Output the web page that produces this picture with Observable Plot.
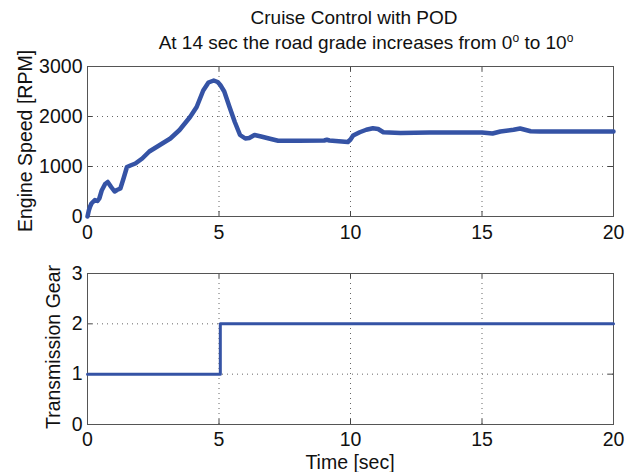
<!DOCTYPE html>
<html><head><meta charset="utf-8">
<script src="https://cdn.jsdelivr.net/npm/d3@7"></script>
<script src="https://cdn.jsdelivr.net/npm/@observablehq/plot@0.6"></script>
<style>
body{margin:0;background:#fff;}
#root{position:relative;width:633px;height:472px;overflow:hidden;font-family:"Liberation Sans",Arial,sans-serif;color:#111;}
.abs{position:absolute;white-space:nowrap;}
.title{font-size:19px;line-height:22px;transform:translate(-50%,-50%);}
.lab{font-size:19.5px;transform:translate(-50%,-50%);}
.ylab{font-size:19.5px;transform:translate(-50%,-50%) rotate(-90deg);}
.panel{position:absolute;left:0;}
sup{font-size:12px;vertical-align:0;position:relative;top:-7px;}
</style></head><body><div id="root"></div>
<script>
const titleLine1 = "Cruise Control with POD";
const titleLine2 = "At 14 sec the road grade increases from 0<sup>o</sup> to 10<sup>o</sup>";
const yLabelTop = "Engine Speed [RPM]";
const yLabelBottom = "Transmission Gear";
const xLabel = "Time [sec]";

const xTicks = [0, 5, 10, 15, 20];
const rpmTicks = [0, 1000, 2000, 3000];
const gearTicks = [0, 1, 2, 3];

const engineTime = [0, 0.05, 0.1, 0.15, 0.28, 0.38, 0.45, 0.54, 0.67, 0.77, 0.9, 1.03, 1.12, 1.25, 1.37, 1.5, 1.63, 1.82, 2.08, 2.35, 2.75, 3.15, 3.5, 3.9, 4.15, 4.4, 4.6, 4.8, 4.95, 5.05, 5.2, 5.4, 5.6, 5.8, 6.0, 6.15, 6.35, 6.6, 6.9, 7.25, 8.0, 9.0, 9.1, 9.2, 9.9, 10.0, 10.1, 10.35, 10.6, 10.85, 11.05, 11.25, 11.9, 13.0, 15.0, 15.4, 15.7, 16.2, 16.45, 16.85, 17.2, 20];
const engineRpm = [0, 120, 200, 260, 330, 310, 360, 520, 650, 690, 590, 500, 530, 560, 760, 990, 1020, 1060, 1160, 1300, 1430, 1560, 1730, 1990, 2190, 2520, 2680, 2720, 2690, 2630, 2500, 2190, 1890, 1630, 1560, 1570, 1630, 1600, 1560, 1516, 1516, 1520, 1535, 1520, 1490, 1540, 1620, 1685, 1735, 1765, 1750, 1685, 1670, 1680, 1680, 1660, 1700, 1735, 1760, 1705, 1700, 1700];

const gearTime = [0, 5.05, 20];
const gearValue = [1, 2, 2];

const lineColor = "#3553a5";
const engine = engineTime.map((t, i) => ({t, v: engineRpm[i]}));
const gear = gearTime.map((t, i) => ({t, v: gearValue[i]}));

const root = document.getElementById("root");
function addDiv(cls, html, style) {
  const d = document.createElement("div");
  d.className = "abs " + cls;
  d.innerHTML = html;
  Object.assign(d.style, style);
  root.appendChild(d);
}

function panel(data, yDomain, yTicks, top, height, mTop, mBottom, strokeWidth, curve, xPad) {
  const inner = xTicks.slice(1, -1);
  const innerY = yTicks.slice(1, -1);
  const ty = (yDomain[1] - yDomain[0]) * 0.033;
  const tx = 20 * 0.0095;
  const fmt = d3.format("d");
  const p = Plot.plot({
    width: 633, height, marginTop: mTop, marginBottom: mBottom, marginLeft: 87, marginRight: 20,
    style: {fontFamily: "Liberation Sans, Arial, sans-serif", fontSize: "19.5px", color: "#111", background: "transparent", overflow: "visible"},
    x: {domain: [0, 20]},
    y: {domain: yDomain},
    marks: [
      Plot.gridX(inner, {stroke: "#666", strokeOpacity: 1, strokeDasharray: "1,4"}),
      Plot.gridY(innerY, {stroke: "#666", strokeOpacity: 1, strokeDasharray: "1,4"}),
      Plot.ruleX(inner, {y1: yDomain[0], y2: yDomain[0] + ty, stroke: "#444"}),
      Plot.ruleX(inner, {y1: yDomain[1], y2: yDomain[1] - ty, stroke: "#444"}),
      Plot.ruleY(innerY, {x1: 0, x2: tx, stroke: "#444"}),
      Plot.ruleY(innerY, {x1: 20, x2: 20 - tx, stroke: "#444"}),
      Plot.frame({stroke: "#555"}),
      Plot.axisX(xTicks, {tickSize: 0, tickPadding: xPad, label: null, fontSize: 19.5, fill: "#111", tickFormat: fmt}),
      Plot.axisY(yTicks, {tickSize: 0, tickPadding: 5, label: null, fontSize: 19.5, fill: "#111", tickFormat: fmt}),
      Plot.line(data, {x: "t", y: "v", stroke: lineColor, strokeWidth, curve, strokeLinejoin: "round", strokeLinecap: "round"})
    ]
  });
  p.classList.add("panel");
  p.style.top = top + "px";
  root.appendChild(p);
}

panel(engine, [0, 3000], rpmTicks, 50, 190, 16, 24, 4.5, "linear", 9);
panel(gear, [0, 3], gearTicks, 257, 215, 16, 48, 3, "step-after", 8);

addDiv("title", titleLine1, {left: "354px", top: "18px"});
addDiv("title", titleLine2, {left: "366px", top: "44px"});
addDiv("ylab", yLabelTop, {left: "25px", top: "141px"});
addDiv("ylab", yLabelBottom, {left: "53px", top: "347px"});
addDiv("lab", xLabel, {left: "350px", top: "462px"});
</script>
</body></html>
